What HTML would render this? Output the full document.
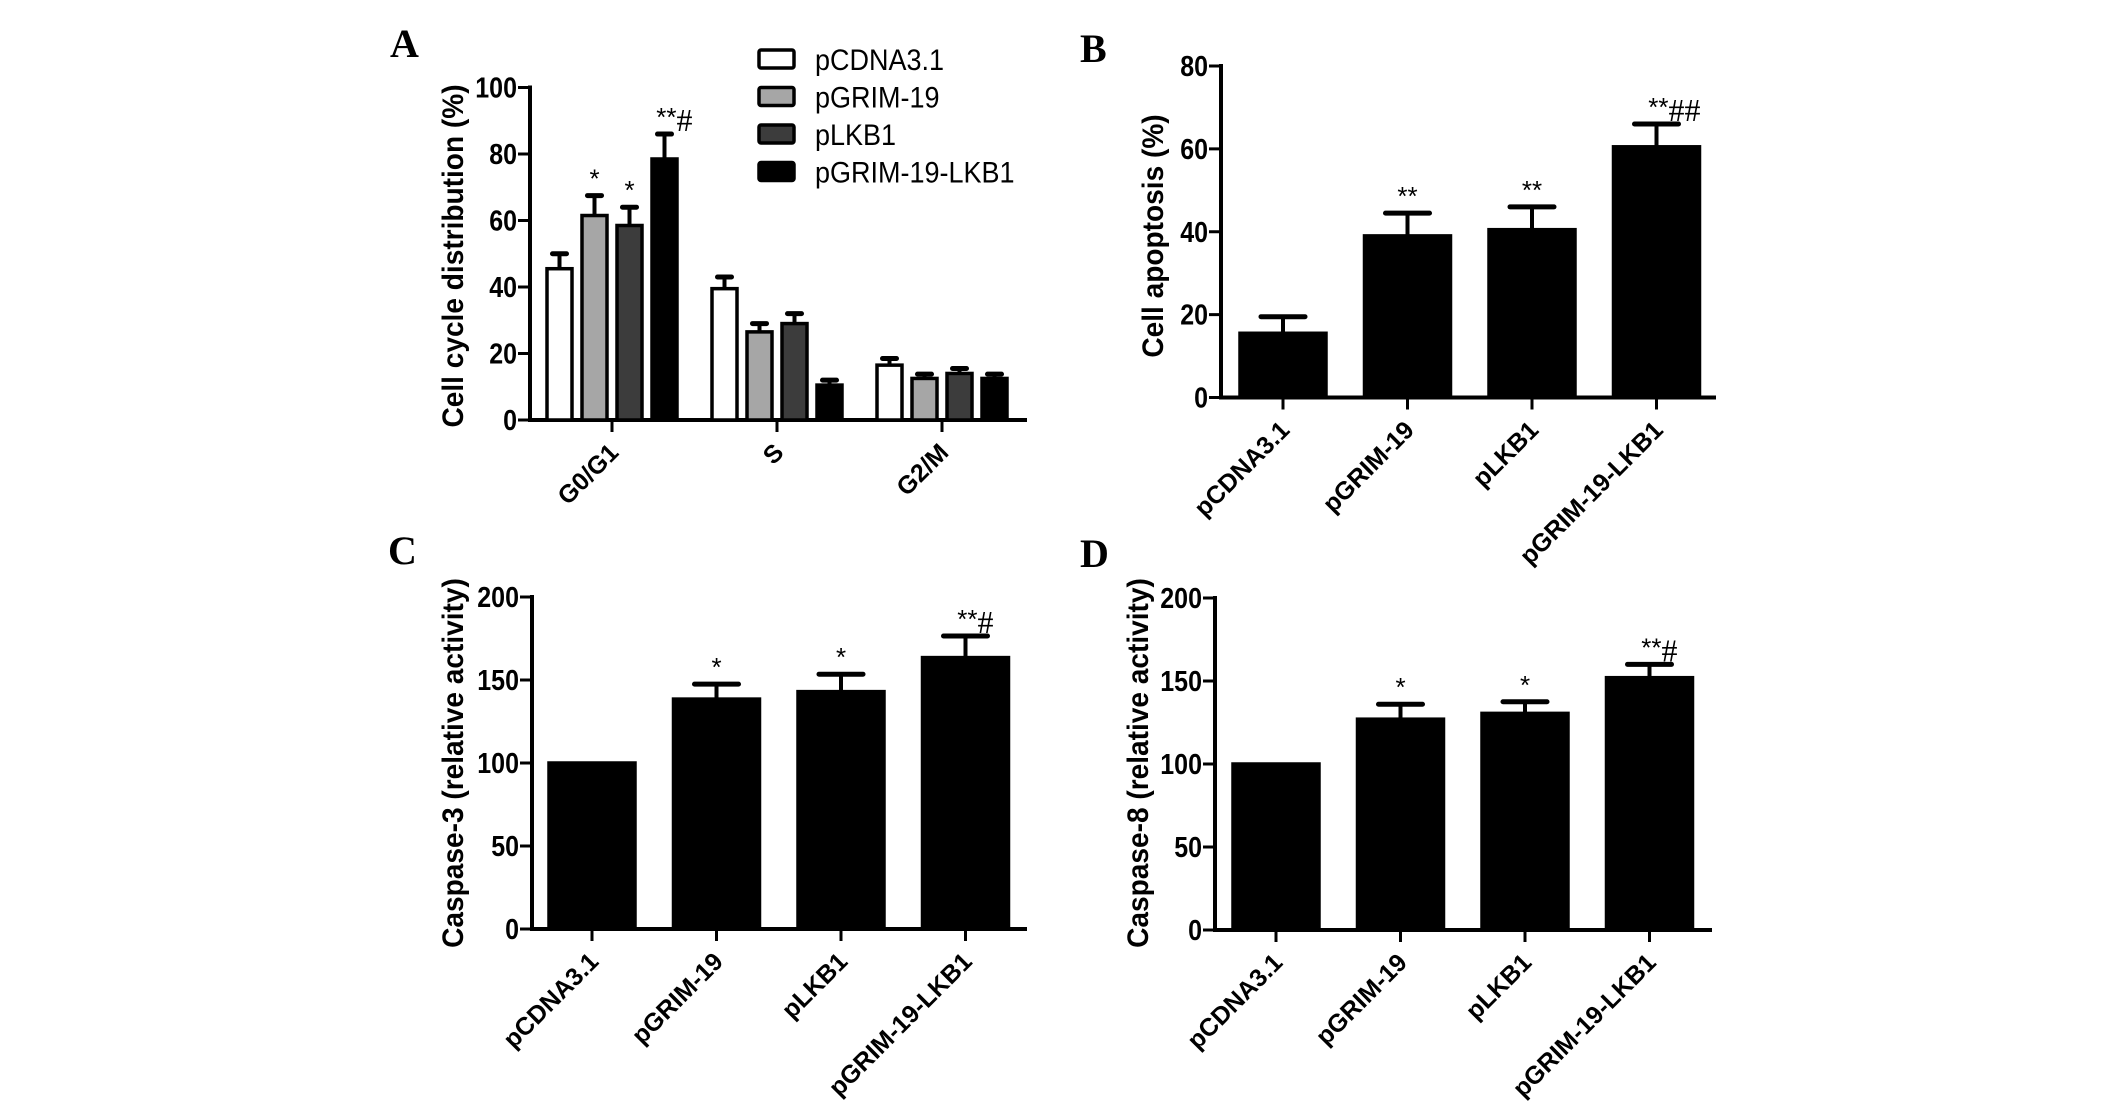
<!DOCTYPE html>
<html><head><meta charset="utf-8"><style>
html,body{margin:0;padding:0;background:#fff;}
svg{display:block;font-family:"Liberation Sans",Arial,sans-serif;}
</style></head><body>
<svg id="fig" width="2126" height="1111" viewBox="0 0 2126 1111" xmlns="http://www.w3.org/2000/svg">
<rect width="2126" height="1111" fill="#fff"/>
</svg>
<script>
// Panel A data
const groupsA = ["G0/G1","S","G2/M"];
const seriesNamesA = ["pCDNA3.1","pGRIM-19","pLKB1","pGRIM-19-LKB1"];
const seriesFillsA = ["#ffffff","#a6a6a6","#3c3c3c","#000000"];
const valsA_ctrl = [45.5, 39.5, 16.5];
const valsA_grim = [61.5, 26.5, 12.5];
const valsA_lkb = [58.5, 29, 14];
const valsA_both = [78.5, 10.5, 12.5];
const errA_ctrl = [4.5, 3.5, 2];
const errA_grim = [6, 2.5, 1.3];
const errA_lkb = [5.5, 3, 1.5];
const errA_both = [7.5, 1.5, 1.3];
const sigA_ctrl = ["","",""];
const sigA_grim = ["*","",""];
const sigA_lkb = ["*","",""];
const sigA_both = ["**#","",""];
const ticksA = [0,20,40,60,80,100];
// Panel B/C/D categories
const cats = ["pCDNA3.1","pGRIM-19","pLKB1","pGRIM-19-LKB1"];
const valsB = [15.5, 39, 40.5, 60.5];
const errB = [4, 5.5, 5.5, 5.5];
const sigB = ["", "**", "**", "**##"];
const ticksB = [0,20,40,60,80];
const valsC = [100, 138.5, 143, 163.5];
const errC = [0, 9, 10.5, 13];
const sigC = ["", "*", "*", "**#"];
const ticksC = [0,50,100,150,200];
const valsD = [100, 127, 130.5, 152];
const errD = [0, 9, 7, 8];
const sigD = ["", "*", "*", "**#"];
const ticksD = [0,50,100,150,200];

const NS="http://www.w3.org/2000/svg";
const svg=document.getElementById('fig');
function el(tag,attrs,parent,text){const e=document.createElementNS(NS,tag);for(const k in attrs)e.setAttribute(k,attrs[k]);if(text!==undefined)e.textContent=text;(parent||svg).appendChild(e);return e;}

function axes(g,cfg){
  const y=v=>cfg.y0-(v-cfg.ymin)/(cfg.ymax-cfg.ymin)*(cfg.y0-cfg.y1);
  const ax=el('line',{x1:cfg.x0,y1:cfg.y1-2,x2:cfg.x0,y2:cfg.y0+2,stroke:'#000','stroke-width':4},g);
  
  
  const bx=el('line',{x1:cfg.x0-2,y1:cfg.y0,x2:cfg.xe,y2:cfg.y0,stroke:'#000','stroke-width':4},g);
  
  
  cfg.ticks.forEach(t=>{
    const tl=el('line',{x1:cfg.x0-12,y1:y(t),x2:cfg.x0,y2:y(t),stroke:'#000','stroke-width':3},g);
    
    
    const tt=el('text',{x:0,y:0,'text-anchor':'end','font-size':25,'font-weight':'bold',transform:`translate(${cfg.x0-13},${y(t)+10}) scale(1,1.15)`},g,String(t));
    
    
  });
  const yt=el('text',{x:0,y:0,'text-anchor':'middle','font-size':27,'font-weight':'bold',transform:`translate(${cfg.titleX},${cfg.titleY}) rotate(-90) scale(1.04,1.08)`},g,cfg.title);
  
  
  const pl=el('text',{x:cfg.lblX,y:cfg.lblY,'font-size':40,'font-weight':'bold','font-family':'Liberation Serif, serif'},g,cfg.lbl);
  
  
  return y;
}
function catLabel(g,x,y0,txt){
  const ct=el('text',{x:0,y:0,'text-anchor':'end','font-size':25,'font-weight':'bold',transform:`translate(${x+8},${y0+34}) rotate(-45)`},g,txt);
  
  
  const tk=el('line',{x1:x,y1:y0,x2:x,y2:y0+12,stroke:'#000','stroke-width':3},g);
  
  
}
function bar(g,cx,w,v,e,sig,fill,y,capW){
  const top=y(v),base=y(0);
  if(e>0){
    const eb=el('line',{x1:cx,y1:top,x2:cx,y2:y(v+e),stroke:'#000','stroke-width':4},g);
    
    
    const cp=el('line',{x1:cx-capW/2,y1:y(v+e),x2:cx+capW/2,y2:y(v+e),stroke:'#000','stroke-width':5,'stroke-linecap':'round'},g);
    
    
  }
  const r=el('rect',{x:cx-w/2,y:top,width:w,height:base-top,fill:fill,stroke:'#000','stroke-width':3.5},g);
  
  
  if(sig){
    const ty=y(v+e)-8;
    const stars=sig.replace(/#/g,''),hashes=sig.replace(/\*/g,'');
    const t=el('text',{x:cx+(hashes?12:0),y:ty,'text-anchor':hashes?'end':'middle','font-size':26},g,stars);
    
    
    if(hashes){
      const h=el('text',{x:cx+12,y:ty+5,'font-size':32,'font-family':'Liberation Serif, serif'},g,hashes);
      
      
    }
  }
}

// Panel A
(function(){
  const g=el('g',{});
  
  
  const y=axes(g,{x0:530,xe:1027,y0:420,y1:87.5,ymin:0,ymax:100,ticks:ticksA,title:'Cell cycle distribution  (%)',titleX:463,titleY:256,lbl:'A',lblX:390,lblY:57});
  const vals=[valsA_ctrl,valsA_grim,valsA_lkb,valsA_both];
  const errs=[errA_ctrl,errA_grim,errA_lkb,errA_both];
  const sigs=[sigA_ctrl,sigA_grim,sigA_lkb,sigA_both];
  const gx=i=>612+i*165;
  groupsA.forEach((name,i)=>{
    vals.forEach((s,j)=>{
      bar(g,gx(i)+(j-1.5)*35,25,s[i],errs[j][i],sigs[j][i],seriesFillsA[j],y,14);
    });
    catLabel(g,gx(i),420,name);
  });
  seriesNamesA.forEach((n,j)=>{
    const ly=50+j*37.5;
    const b=el('rect',{x:759,y:ly,width:35,height:18,fill:seriesFillsA[j],stroke:'#000','stroke-width':3.5,rx:2},g);
    
    
    const t=el('text',{x:0,y:0,'font-size':27,transform:`translate(815,${ly+20}) scale(1,1.1)`},g,n);
    
    
  });
})();

function simplePanel(name,cfg,vals,errs,sigs){
  const g=el('g',{});
  
  
  const y=axes(g,cfg);
  cats.forEach((c,i)=>{
    const cx=cfg.c0+i*124.5;
    bar(g,cx,86,vals[i],errs[i],sigs[i],'#000',y,44);
    catLabel(g,cx,cfg.y0,c);
  });
}
simplePanel('panel-b',{x0:1221,xe:1716,y0:397.5,y1:66,ymin:0,ymax:80,ticks:ticksB,title:'Cell apoptosis (%)',titleX:1163,titleY:236,lbl:'B',lblX:1080,lblY:62,c0:1283},valsB,errB,sigB);
simplePanel('panel-c',{x0:532,xe:1027,y0:929,y1:597,ymin:0,ymax:200,ticks:ticksC,title:'Caspase-3  (relative activity)',titleX:463,titleY:763,lbl:'C',lblX:388,lblY:564,c0:592},valsC,errC,sigC);
simplePanel('panel-d',{x0:1215,xe:1712,y0:930,y1:598,ymin:0,ymax:200,ticks:ticksD,title:'Caspase-8  (relative activity)',titleX:1148,titleY:763,lbl:'D',lblX:1080,lblY:567,c0:1276},valsD,errD,sigD);
</script>
</body></html>
